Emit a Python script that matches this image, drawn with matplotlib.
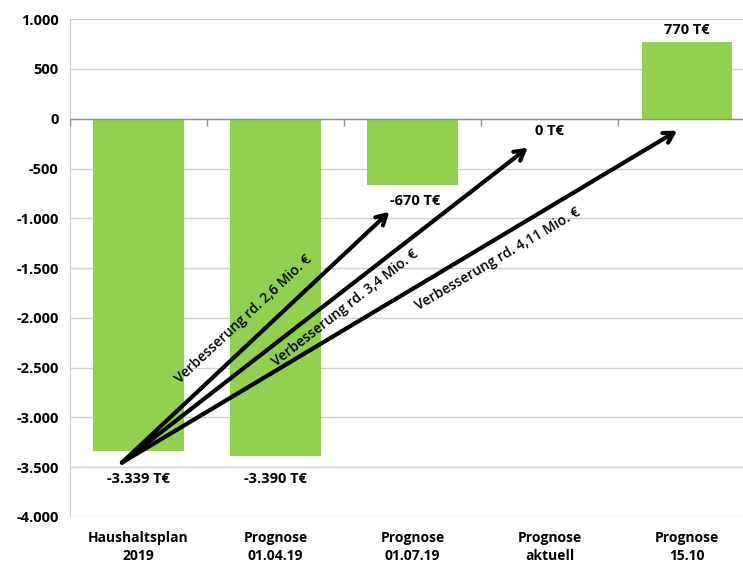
import numpy as np
import matplotlib.pyplot as plt

plt.rcParams['font.family'] = ['Open Sans', 'DejaVu Sans']

# Daten (T€)
categories = ['Haushaltsplan\n2019', 'Prognose\n01.04.19', 'Prognose\n01.07.19', 'Prognose\naktuell', 'Prognose\n15.10']
values = [-3339, -3390, -670, 0, 770]
value_labels = ['-3.339 T€', '-3.390 T€', '-670 T€', '0 T€', '770 T€']
yticks = [1000, 500, 0, -500, -1000, -1500, -2000, -2500, -3000, -3500, -4000]
ytick_labels = ['1.000', '500', '0', '-500', '-1.000', '-1.500', '-2.000', '-2.500', '-3.000', '-3.500', '-4.000']

# Pfeile: Start und Ziele
arrow_start = (-0.12, -3454)
arrow_ends = [(1.83, -935), (2.84, -291), (3.93, -120)]
arrow_texts = ['Verbesserung rd. 2,6 Mio. €', 'Verbesserung rd. 3,4 Mio. €', 'Verbesserung rd. 4,11 Mio. €']

green = '#92d050'

fig = plt.figure(figsize=(7.43, 5.65), dpi=100)
ax = fig.add_axes([0.094, 0.085, 0.906, 0.881])

x = np.arange(len(categories))
ax.bar(x, values, width=0.66, color=green, zorder=2)

ax.set_xlim(-0.5, 4.41)
ax.set_ylim(-4000, 1000)
ax.set_yticks(yticks)
ax.set_yticklabels(ytick_labels, fontsize=10.5, fontweight='bold')
ax.set_xticks(x)
ax.set_xticklabels(categories, fontsize=10, fontweight='bold', linespacing=1.35)
ax.tick_params(axis='x', length=0, pad=10)
ax.tick_params(axis='y', length=0, pad=8)

ax.grid(axis='y', color='#d0d0d0', linewidth=1, zorder=0)
for s in ['top', 'right', 'bottom']:
    ax.spines[s].set_visible(False)
ax.spines['left'].set_color('#c8c8c8')

# Nulllinie mit Teilstrichen
ax.axhline(0, color='#909090', linewidth=1, zorder=3)
ax.vlines(np.arange(-0.5, 4.5, 1.0), -70, 0, color='#909090', linewidth=1, zorder=3)

# Beschriftungen
ax.text(0.0, -3550, value_labels[0], ha='center', va='top', fontsize=10.5, fontweight='bold')
ax.text(1.0, -3550, value_labels[1], ha='center', va='top', fontsize=10.5, fontweight='bold')
ax.text(2.02, -823, value_labels[2], ha='center', va='center', fontsize=10.5, fontweight='bold')
ax.text(3.0, -120, value_labels[3], ha='center', va='center', fontsize=10.5, fontweight='bold')
ax.text(4.0, 820, value_labels[4], ha='center', va='bottom', fontsize=10.5, fontweight='bold')

for (ex, ey) in arrow_ends:
    ax.annotate('', xy=(ex, ey), xytext=arrow_start,
                arrowprops=dict(arrowstyle='->,head_length=0.7,head_width=0.4', color='black', lw=3,
                                shrinkA=0, shrinkB=0), zorder=5)

# Pfeiltexte (Position in Daten, Winkel in Pixeln)
text_pos = [(0.77, -2010), (1.51, -1900), (2.62, -1410)]
text_rot = [43, 37.9, 30.5]
for (tx, ty), t, r in zip(text_pos, arrow_texts, text_rot):
    ax.text(tx, ty, t, rotation=r, rotation_mode='anchor', ha='center', va='center',
            fontsize=10, fontweight='semibold', zorder=6)

fig.savefig('out.png', dpi=100)
